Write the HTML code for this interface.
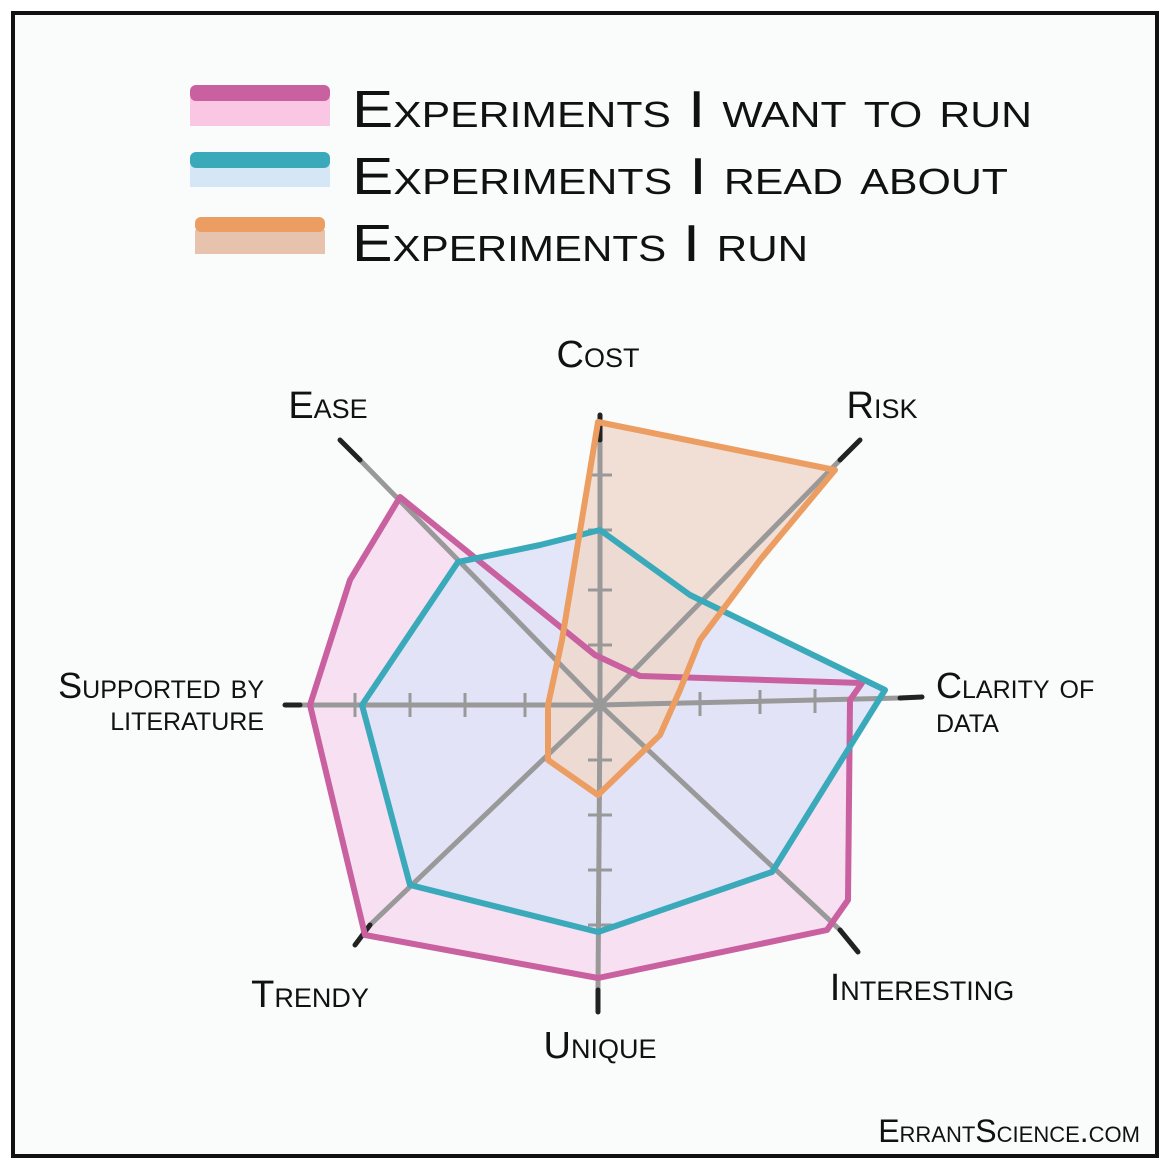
<!DOCTYPE html>
<html><head><meta charset="utf-8"><style>
html,body{margin:0;padding:0;background:#fff;}
svg{display:block;}
text{font-family:"Liberation Sans",sans-serif;font-variant:small-caps;fill:#111;}
</style></head><body>
<svg width="1170" height="1169" viewBox="0 0 1170 1169" xmlns="http://www.w3.org/2000/svg">
<rect x="0" y="0" width="1170" height="1169" fill="#fff"/>
<rect x="13" y="13" width="1144" height="1143" fill="#fafbfb" stroke="#111" stroke-width="4"/>

<rect x="190" y="98" width="140" height="28" fill="#f9c6e4"/>
<rect x="190" y="85" width="140" height="16" rx="6" fill="#c9609f"/>
<rect x="190" y="165" width="140" height="22" fill="#d5e6f6"/>
<rect x="190" y="152" width="140" height="16" rx="6" fill="#3aaabb"/>
<rect x="195" y="230" width="130" height="24" fill="#e7c2ad"/>
<rect x="195" y="217" width="130" height="15" rx="6" fill="#ec9d62"/>
<text x="352" y="127" font-size="52" textLength="680" lengthAdjust="spacingAndGlyphs">Experiments I want to run</text>
<text x="352" y="194" font-size="52" textLength="656" lengthAdjust="spacingAndGlyphs">Experiments I read about</text>
<text x="352" y="261" font-size="52" textLength="456" lengthAdjust="spacingAndGlyphs">Experiments I run</text>

<polygon points="400,497 595,655 640,676 862,683 850,700 848,900 827,930 598,978 365,935 310,705 350,580" fill="#f7e0f2"/>
<polygon points="600,530 690,595 885,690 772,872 598,932 410,885 362,705 458,562 540,545" fill="#dfe3f7" opacity="0.9"/>
<polygon points="598,422 835,470 760,560 700,640 680,690 660,735 598,795 548,760 548,705 562,640" fill="#efd8cc" opacity="0.85"/>

<g stroke="#999" stroke-width="5" stroke-linecap="round">
<line x1="600" y1="705" x2="600" y2="440"/>
<line x1="600" y1="705" x2="840" y2="460"/>
<line x1="600" y1="705" x2="900" y2="698"/>
<line x1="600" y1="705" x2="840" y2="930"/>
<line x1="600" y1="705" x2="598" y2="990"/>
<line x1="600" y1="705" x2="370" y2="925"/>
<line x1="600" y1="705" x2="300" y2="705"/>
<line x1="600" y1="705" x2="360" y2="460"/>
</g>
<g stroke="#999" stroke-width="3">
<line x1="588" y1="645" x2="612" y2="645"/><line x1="588" y1="590" x2="612" y2="590"/><line x1="588" y1="530" x2="612" y2="530"/><line x1="588" y1="475" x2="612" y2="475"/>
<line x1="588" y1="760" x2="612" y2="760"/><line x1="588" y1="815" x2="612" y2="815"/><line x1="588" y1="870" x2="612" y2="870"/><line x1="588" y1="925" x2="612" y2="925"/>
<line x1="525" y1="693" x2="525" y2="717"/><line x1="465" y1="693" x2="465" y2="717"/><line x1="410" y1="693" x2="410" y2="717"/><line x1="355" y1="693" x2="355" y2="717"/>
<line x1="700" y1="692" x2="700" y2="716"/><line x1="760" y1="690" x2="760" y2="714"/><line x1="815" y1="689" x2="815" y2="713"/>
</g>
<g stroke="#222" stroke-width="5" stroke-linecap="round">
<line x1="600" y1="440" x2="600" y2="415"/>
<line x1="840" y1="460" x2="860" y2="440"/>
<line x1="900" y1="698" x2="922" y2="697"/>
<line x1="840" y1="930" x2="858" y2="952"/>
<line x1="598" y1="990" x2="598" y2="1012"/>
<line x1="370" y1="925" x2="355" y2="945"/>
<line x1="300" y1="705" x2="285" y2="705"/>
<line x1="360" y1="460" x2="340" y2="440"/>
</g>

<polygon points="400,497 595,655 640,676 862,683 850,700 848,900 827,930 598,978 365,935 310,705 350,580" fill="none" stroke="#c9609f" stroke-width="6" stroke-linejoin="round"/>
<polygon points="600,530 690,595 885,690 772,872 598,932 410,885 362,705 458,562 540,545" fill="none" stroke="#3aaabb" stroke-width="6" stroke-linejoin="round"/>
<polygon points="598,422 835,470 760,560 700,640 680,690 660,735 598,795 548,760 548,705 562,640" fill="none" stroke="#ec9d62" stroke-width="6" stroke-linejoin="round"/>

<text x="598" y="367" font-size="38" text-anchor="middle">Cost</text>
<text x="882" y="418" font-size="38" text-anchor="middle">Risk</text>
<text x="328" y="418" font-size="38" text-anchor="middle">Ease</text>
<text x="936" y="698" font-size="36">Clarity of</text>
<text x="936" y="732" font-size="36">data</text>
<text x="264" y="698" font-size="36" text-anchor="end">Supported by</text>
<text x="264" y="730" font-size="36" text-anchor="end">literature</text>
<text x="922" y="1000" font-size="38" text-anchor="middle">Interesting</text>
<text x="310" y="1007" font-size="38" text-anchor="middle">Trendy</text>
<text x="600" y="1058" font-size="38" text-anchor="middle">Unique</text>
<text x="1140" y="1142" font-size="32" text-anchor="end">ErrantScience.com</text>
</svg>
</body></html>
